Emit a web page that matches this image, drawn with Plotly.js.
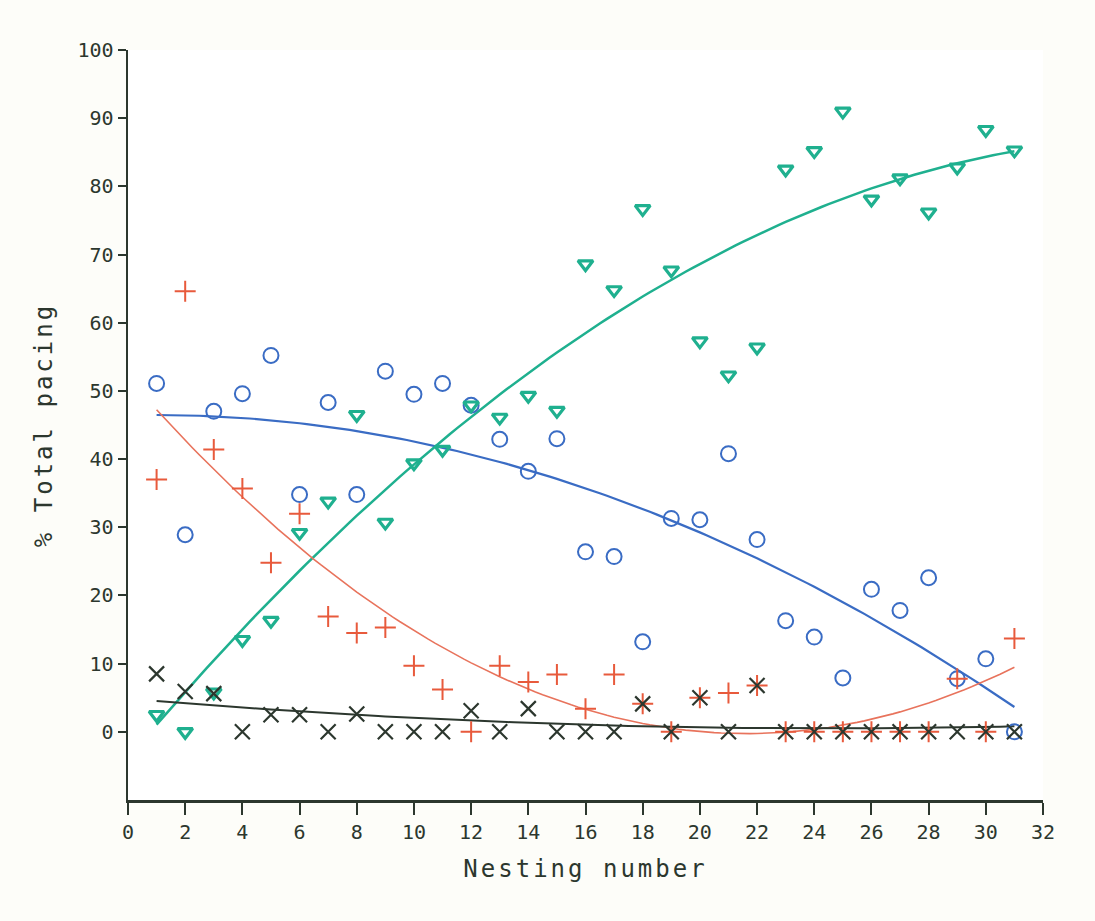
<!DOCTYPE html>
<html>
<head>
<meta charset="utf-8">
<script src="https://cdn.plot.ly/plotly-3.0.1.min.js"></script>
<style>
html,body{margin:0;padding:0;background:#fdfdf9;}
#chart{width:1095px;height:921px;}
.g-xtitle text, .g-ytitle text{letter-spacing:3px;}
</style>
</head>
<body>
<div id="chart"></div>
<script>
// Nesting number
const nesting = [1,2,3,4,5,6,7,8,9,10,11,12,13,14,15,16,17,18,19,20,21,22,23,24,25,26,27,28,29,30,31];
// Blue circles (% total pacing)
const circleVals = [51.1,28.9,47.0,49.6,55.2,34.8,48.3,34.8,52.9,49.5,51.1,47.9,42.9,38.2,43.0,26.4,25.7,13.2,31.3,31.1,40.8,28.2,16.3,13.9,7.9,20.9,17.8,22.6,7.8,10.7,0];
// Green down-triangles
const triangleVals = [2.5,0,5.8,13.5,16.3,29.2,33.8,46.5,30.7,39.4,41.4,47.9,46.1,49.3,47.1,68.6,64.8,76.7,67.7,57.3,52.3,56.4,82.5,85.2,91.0,78.1,81.2,76.2,82.8,88.3,85.3];
// Red crosses
const plusVals = [37.0,64.6,41.4,35.7,24.8,32.0,16.9,14.5,15.3,9.7,6.2,0,9.7,7.3,8.4,3.4,8.4,4.1,0,5.0,5.7,6.8,0,0,0,0,0,0,7.8,0,13.7];
// Black x marks
const xVals = [8.5,5.9,5.6,0,2.5,2.5,0,2.6,0,0,0,3.1,0,3.4,0,0,0,4.1,0,5.0,0,6.8,0,0,0,0,0,0,0,0,0];

const xTicks = [0,2,4,6,8,10,12,14,16,18,20,22,24,26,28,30,32];
const yTicks = [0,10,20,30,40,50,60,70,80,90,100];

// Quadratic least-squares fit of a series
function quadFit(xs, ys){
  let S=[0,0,0,0,0], T=[0,0,0];
  for(let i=0;i<xs.length;i++){
    const x=xs[i], y=ys[i];
    let p=1;
    for(let k=0;k<5;k++){S[k]+=p; p*=x;}
    T[0]+=y; T[1]+=y*x; T[2]+=y*x*x;
  }
  const A=[[S[0],S[1],S[2],T[0]],[S[1],S[2],S[3],T[1]],[S[2],S[3],S[4],T[2]]];
  for(let c=0;c<3;c++){
    for(let r=c+1;r<3;r++){
      const f=A[r][c]/A[c][c];
      for(let k=c;k<4;k++) A[r][k]-=f*A[c][k];
    }
  }
  const b=[0,0,0];
  for(let r=2;r>=0;r--){
    let s=A[r][3];
    for(let k=r+1;k<3;k++) s-=A[r][k]*b[k];
    b[r]=s/A[r][r];
  }
  const fx=[], fy=[];
  const x0=xs[0], x1=xs[xs.length-1];
  for(let i=0;i<=120;i++){
    const x=x0+(x1-x0)*i/120;
    fx.push(x); fy.push(b[0]+b[1]*x+b[2]*x*x);
  }
  return {x:fx,y:fy};
}

const cBlue='#3a6cc4', cGreen='#1fb08f', cRed='#e85a3c', cBlack='#2c372e';

const fB=quadFit(nesting,circleVals), fG=quadFit(nesting,triangleVals), fR=quadFit(nesting,plusVals), fK=quadFit(nesting,xVals);

const traces=[
  {x:fB.x,y:fB.y,mode:'lines',line:{color:cBlue,width:2.2},hoverinfo:'skip'},
  {x:fG.x,y:fG.y,mode:'lines',line:{color:cGreen,width:2.5},hoverinfo:'skip'},
  {x:fR.x,y:fR.y,mode:'lines',line:{color:'#e8735c',width:1.6},hoverinfo:'skip'},
  {x:fK.x,y:fK.y,mode:'lines',line:{color:cBlack,width:2},hoverinfo:'skip'},
  {x:nesting,y:circleVals,mode:'markers',marker:{symbol:'circle-open',size:15,color:cBlue,line:{width:2,color:cBlue}}},
  {x:nesting,y:triangleVals,mode:'markers',marker:{symbol:'triangle-down-open',size:13,color:cGreen,line:{width:3.2,color:cGreen}}},
  {x:nesting,y:plusVals,mode:'markers',marker:{symbol:'cross-thin-open',size:15,color:cRed,line:{width:2,color:cRed}}},
  {x:nesting,y:xVals,mode:'markers',marker:{symbol:'x-thin-open',size:15,color:cBlack,line:{width:2.2,color:cBlack}}}
];

const fontFam='"DejaVu Sans Mono", monospace';
const layout={
  width:1095,height:921,
  paper_bgcolor:'#fdfdf9',plot_bgcolor:'#ffffff',
  showlegend:false,
  margin:{l:128,r:52,t:50,b:121},
  font:{family:fontFam,color:'#2c372e'},
  xaxis:{
    range:[0,32],tickvals:xTicks,ticktext:xTicks.map(String),
    showgrid:false,zeroline:false,showline:true,linecolor:'#2c372e',linewidth:2.5,
    ticks:'outside',ticklen:12,tickwidth:2,tickcolor:'#2c372e',
    tickfont:{size:20,family:fontFam,color:'#2c372e'},
    title:{text:'Nesting number',font:{size:24,family:fontFam,color:'#2c372e'},standoff:18}
  },
  yaxis:{
    range:[-10,100],tickvals:yTicks,ticktext:yTicks.map(String),
    showgrid:false,zeroline:false,showline:true,linecolor:'#2c372e',linewidth:2.5,
    ticks:'outside',ticklen:8,tickwidth:2,tickcolor:'#2c372e',
    tickfont:{size:20,family:fontFam,color:'#2c372e'},
    title:{text:'% Total pacing',font:{size:24,family:fontFam,color:'#2c372e'},standoff:18}
  }
};
Plotly.newPlot('chart',traces,layout,{displayModeBar:false,staticPlot:true});
</script>
</body>
</html>
